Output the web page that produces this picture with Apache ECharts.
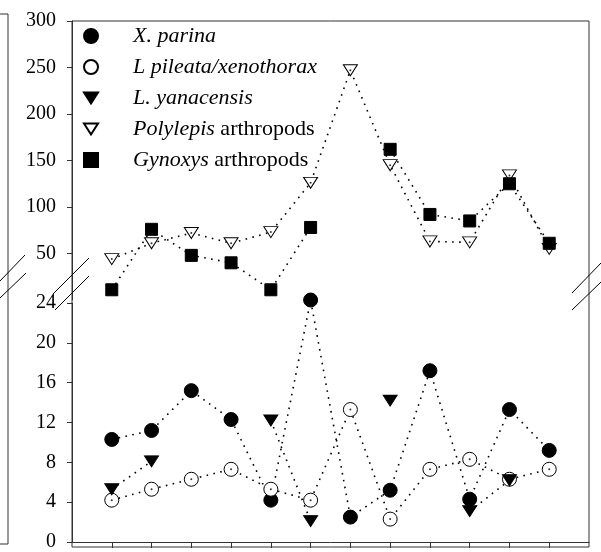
<!DOCTYPE html>
<html>
<head>
<meta charset="utf-8">
<script src="https://cdn.jsdelivr.net/npm/echarts@6/dist/echarts.min.js"></script>
<style>
  html, body { margin: 0; padding: 0; background: #fff; }
  #chart { width: 601px; height: 552px; }
</style>
</head>
<body>
<div id="chart"></div>
<script>
// sampling sites along the x axis (tick labels are cut off below the frame)
var sites = [1, 2, 3, 4, 5, 6, 7, 8, 9, 10, 11, 12]

// lower panel (0 - 24)
var xParina = [10.3, 11.2, 15.2, 12.3, 4.2, 24.3, 2.5, 5.2, 17.2, 4.3, 13.3, 9.2]
var lPileata = [4.2, 5.3, 6.3, 7.3, 5.3, 4.2, 13.3, 2.3, 7.3, 8.3, 6.3, 7.3]
var lYanacensis = [5.3, 8.1, null, null, 12.2, 2.1, null, 14.2, null, 3.1, 6.2, null]

// upper panel (50 - 300)
var polylepis = [44, 61, 72, 61, 73, 126, 247, 145, 63, 62, 134, 55]
var gynoxys = [11, 76, 48, 40, 11, 78, null, 162, 92, 85, 125, 61]

var upperTicks = [50, 100, 150, 200, 250, 300]

var FONT = '"Liberation Serif", "DejaVu Serif", serif'
var DOWN_TRI = 'path://M0,0 L14,0 L7,11 Z'
var SQUARE = 'path://M0,0 L10,0 L10,10 L0,10 Z'

function pts(vals) {
  return sites.map(function (x, i) {
    return [x, vals[i] == null ? '-' : vals[i]]
  })
}

var dotted = { color: '#000', width: 1.6, type: [1.6, 5.4], cap: 'butt' }

function lineSeries(name, vals, gi, symbol, size, fill) {
  return {
    name: name,
    type: 'line',
    xAxisIndex: gi,
    yAxisIndex: gi,
    data: pts(vals),
    symbol: symbol,
    symbolSize: size,
    showAllSymbol: true,
    connectNulls: false,
    clip: false,
    lineStyle: dotted,
    itemStyle: { color: fill, borderColor: '#000', borderWidth: 1, opacity: 1 },
    emphasis: { disabled: true },
    silent: true
  }
}

function centreDots(vals, gi) {
  return {
    type: 'scatter',
    xAxisIndex: gi,
    yAxisIndex: gi,
    data: pts(vals),
    symbol: 'circle',
    symbolSize: 2,
    clip: false,
    z: 5,
    itemStyle: { color: '#000' },
    silent: true
  }
}

var legendNames = {
  'X. parina': '{sp|}{i|X. parina}',
  'L pileata/xenothorax': '{sp|}{i|L pileata/xenothorax}',
  'L. yanacensis': '{sp|}{i|L. yanacensis}',
  'Polylepis arthropods': '{sp|}{i|Polylepis} arthropods',
  'Gynoxys arthropods': '{sp|}{i|Gynoxys} arthropods'
}

var chart = echarts.init(document.getElementById('chart'))

var options = {
  animation: false,
  backgroundColor: '#fff',
  grid: [
    { left: 72, top: 21, width: 517, height: 279 },
    { left: 72, top: 303, width: 517, height: 244 }
  ],
  xAxis: [
    { gridIndex: 0, type: 'value', min: 0, max: 13, show: false },
    {
      gridIndex: 1, type: 'value', min: 0, max: 13, interval: 1,
      axisLine: { show: true, lineStyle: { color: '#333', width: 1 } },
      axisTick: { show: true, length: 6, customValues: sites, lineStyle: { color: '#333' } },
      axisLabel: { show: false },
      splitLine: { show: false }
    }
  ],
  yAxis: [
    {
      gridIndex: 0, type: 'value', min: 0, max: 300, interval: 50,
      axisLine: { show: true, lineStyle: { color: '#333', width: 1 } },
      axisTick: { show: true, length: 5, customValues: upperTicks, lineStyle: { color: '#333' } },
      axisLabel: {
        customValues: upperTicks,
        margin: 16, color: '#000', fontFamily: FONT, fontSize: 20,
        formatter: function (v) { return v === 0 ? '' : v }
      },
      splitLine: { show: false }
    },
    {
      gridIndex: 1, type: 'value', min: 0, max: 24, interval: 4,
      axisLine: { show: true, lineStyle: { color: '#333', width: 1 } },
      axisTick: { show: true, length: 5, lineStyle: { color: '#333' } },
      axisLabel: { margin: 16, color: '#000', fontFamily: FONT, fontSize: 20 },
      splitLine: { show: false }
    }
  ],
  legend: {
    orient: 'vertical',
    left: 83,
    top: 25,
    padding: 0,
    itemWidth: 14,
    itemHeight: 14,
    itemGap: 9,
    selectedMode: false,
    data: [
      { name: 'X. parina', icon: 'circle' },
      { name: 'L pileata/xenothorax', icon: 'circle' },
      { name: 'L. yanacensis', icon: DOWN_TRI },
      { name: 'Polylepis arthropods', icon: DOWN_TRI },
      { name: 'Gynoxys arthropods', icon: SQUARE }
    ],
    formatter: function (name) { return legendNames[name] },
    textStyle: {
      color: '#000', fontFamily: FONT, fontSize: 22, lineHeight: 21,
      rich: {
        sp: { width: 30 },
        i: { fontStyle: 'italic', fontFamily: FONT, fontSize: 22, lineHeight: 21, color: '#000' }
      }
    }
  },
  graphic: [
    // plot frame
    { type: 'rect', shape: { x: 72, y: 21, width: 517, height: 526 }, style: { fill: 'none', stroke: '#333', lineWidth: 1 }, z: 10, silent: true },
    // axis break marks, left and right
    { type: 'line', shape: { x1: 53, y1: 294, x2: 89, y2: 258 }, style: { stroke: '#000', lineWidth: 1 }, z: 10 },
    { type: 'line', shape: { x1: 55, y1: 310, x2: 89, y2: 276 }, style: { stroke: '#000', lineWidth: 1 }, z: 10 },
    { type: 'line', shape: { x1: 572, y1: 293, x2: 601, y2: 263 }, style: { stroke: '#000', lineWidth: 1 }, z: 10 },
    { type: 'line', shape: { x1: 572, y1: 310, x2: 601, y2: 282 }, style: { stroke: '#000', lineWidth: 1 }, z: 10 },
    // edge of the neighbouring panel
    { type: 'polyline', shape: { points: [[0, 14], [8, 14], [8, 544], [0, 544]] }, style: { fill: 'none', stroke: '#333', lineWidth: 1 }, z: 10 },
    { type: 'line', shape: { x1: 0, y1: 281, x2: 25, y2: 255 }, style: { stroke: '#000', lineWidth: 1 }, z: 10 },
    { type: 'line', shape: { x1: 0, y1: 298, x2: 26, y2: 273 }, style: { stroke: '#000', lineWidth: 1 }, z: 10 }
  ],
  series: [
    lineSeries('Polylepis arthropods', polylepis, 0, DOWN_TRI, [14, 11], '#fff'),
    lineSeries('Gynoxys arthropods', gynoxys, 0, SQUARE, 12, '#000'),
    lineSeries('X. parina', xParina, 1, 'circle', 14, '#000'),
    lineSeries('L pileata/xenothorax', lPileata, 1, 'circle', 14, '#fff'),
    lineSeries('L. yanacensis', lYanacensis, 1, DOWN_TRI, [14, 11], '#000'),
    centreDots(polylepis, 0),
    centreDots(lPileata, 1)
  ]
}

chart.setOption(options)
</script>
</body>
</html>
